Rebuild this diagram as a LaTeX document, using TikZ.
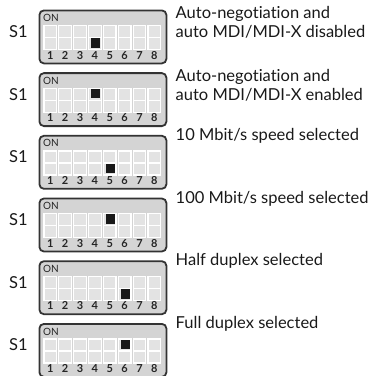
\documentclass[tikz,border=0pt]{standalone}
\usepackage{fontspec}
\setmainfont{Lato}[Ligatures={NoCommon,NoRare}]
\begin{document}
\begin{tikzpicture}[x=1pt,y=-1pt,
    box/.style={draw=black!80,line width=1.8pt,fill=black!17,rounded corners=4.5pt,
      minimum width=127pt,minimum height=53pt,anchor=north west,inner sep=0pt},
    slot/.style={draw=white,line width=1.2pt,fill=black!11},
    knob/.style={fill=black!90,minimum width=9pt,minimum height=9.5pt,inner sep=0pt},
    digit/.style={inner sep=0pt,anchor=base,text=black!85,font=\fontsize{11}{11}\selectfont\bfseries},
    onlabel/.style={inner sep=0pt,anchor=west,text=black!85,font=\fontsize{10}{10}\selectfont},
    caption/.style={anchor=west,inner sep=0pt,align=left,text=black!90,
      font=\fontsize{16.5}{18.5}\selectfont}]
  \useasboundingbox (0,0) rectangle (376,376);

  % Six settings of switch S1
  \foreach \row/\sw/\pos/\dy/\txt in {
      0/4/1/13/{Auto-negotiation and\\auto MDI/MDI-X disabled},
      1/4/0/13/{Auto-negotiation and\\auto MDI/MDI-X enabled},
      2/5/1/1/{10 Mbit/s speed selected},
      3/5/0/1/{100 Mbit/s speed selected},
      4/6/1/1/{Half duplex selected},
      5/6/0/1/{Full duplex selected}}{
    \pgfmathsetmacro\ytop{9.5+62.7*\row}

    % Housing
    \node[box] (sw\row) at (38.5,\ytop) {};
    \node[onlabel] (on\row) at (43,\ytop+8.5) {ON};
    \node[caption] (s\row) at (9,\ytop+22) {S1};

    % Slots and numbers
    \foreach \k in {1,...,8}{
      \pgfmathsetmacro\xl{44+14.86*(\k-1)}
      \draw[slot] (\xl,\ytop+16) rectangle (\xl+12.6,\ytop+40);
      \draw[white,line width=1.2pt] (\xl,\ytop+28) -- (\xl+12.6,\ytop+28);
      \node[digit] (n\row\k) at (\xl+6.3,\ytop+49.5) {\k};
    }

    % Switch lever
    \pgfmathsetmacro\xk{44+14.86*(\sw-1)+6.8}
    \pgfmathsetmacro\yk{\ytop+(\pos==1 ? 33.5 : 21.5)}
    \node[knob] (k\row) at (\xk,\yk) {};

    % Meaning
    \node[caption] (t\row) at (175.5,\ytop+\dy) {\txt};
  }
\end{tikzpicture}
\end{document}
